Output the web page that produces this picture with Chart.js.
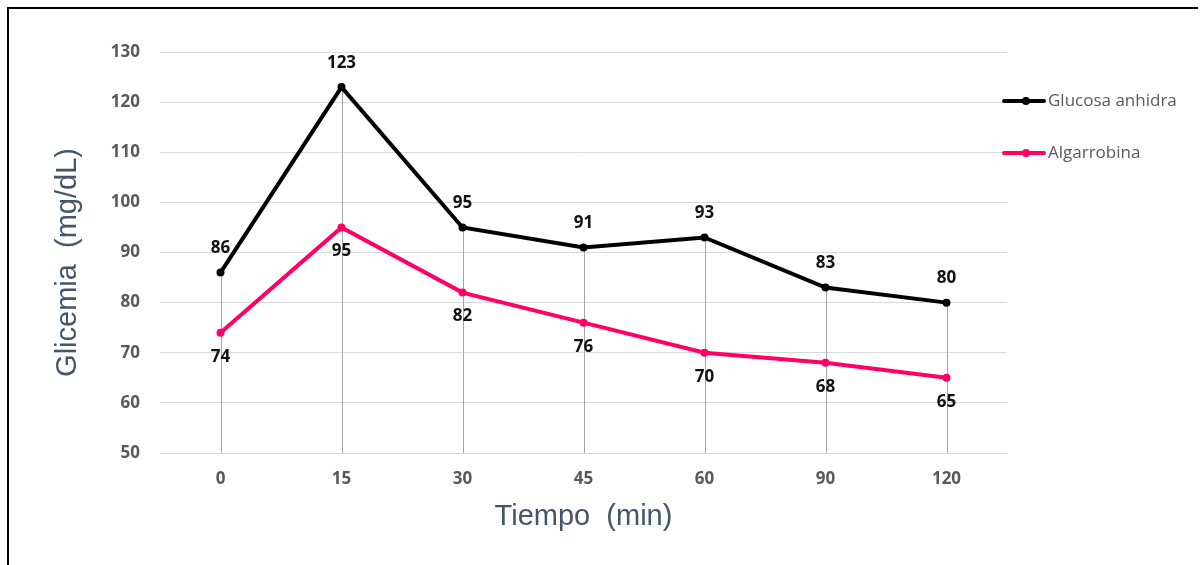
<!DOCTYPE html>
<html>
<head>
<meta charset="utf-8">
<script src="https://cdn.jsdelivr.net/npm/chart.js@4.4.1/dist/chart.umd.min.js"></script>
<style>
  html, body { margin: 0; padding: 0; background: #fff; }
  #wrap { position: relative; width: 1201px; height: 565px; }
  #frame { position: absolute; left: 7px; top: 7px; right: 3px; bottom: 0;
           border-left: 2px solid #000; border-top: 2px solid #000; pointer-events: none; }
</style>
</head>
<body>
<div id="wrap">
  <canvas id="c" width="1201" height="565"></canvas>
  <div id="frame"></div>
</div>
<script>
// Time points (minutes) and blood glucose readings (mg/dL)
const times = ['0', '15', '30', '45', '60', '90', '120'];
const glucosaAnhidra = [86, 123, 95, 91, 93, 83, 80];
const algarrobina = [74, 95, 82, 76, 70, 68, 65];
const seriesNames = ['Glucosa anhidra', 'Algarrobina'];
const yMin = 50, yMax = 130, yStep = 10;

const TICK_FONT = { family: '"Open Sans", sans-serif', size: 17, weight: 'bold' };
const TITLE_FONT = '29px "Liberation Sans", Arial, sans-serif';
const TITLE_COLOR = '#44546A';

// Thin gray drop lines from the highest point of each category to the axis
const dropLines = {
  id: 'dropLines',
  beforeDatasetsDraw(chart) {
    const { ctx, chartArea } = chart;
    const metas = chart.data.datasets.map((d, i) => chart.getDatasetMeta(i));
    ctx.save();
    ctx.strokeStyle = '#a6a6a6';
    ctx.lineWidth = 1;
    metas[0].data.forEach((pt, i) => {
      const top = Math.min(...metas.map(m => m.data[i].y));
      const x = Math.round(pt.x) + 0.5;
      ctx.beginPath();
      ctx.moveTo(x, top);
      ctx.lineTo(x, chartArea.bottom);
      ctx.stroke();
    });
    ctx.restore();
  }
};

// Value labels above / below each point
const valueLabels = {
  id: 'valueLabels',
  afterDatasetsDraw(chart) {
    const { ctx } = chart;
    ctx.save();
    ctx.font = 'bold 17px "Open Sans", sans-serif';
    ctx.fillStyle = '#111';
    ctx.textAlign = 'center';
    ctx.textBaseline = 'middle';
    chart.data.datasets.forEach((ds, di) => {
      const meta = chart.getDatasetMeta(di);
      meta.data.forEach((pt, i) => {
        ctx.fillText(String(ds.data[i]), pt.x, pt.y + ds.labelOffset);
      });
    });
    ctx.restore();
  }
};

// Rotated y-axis title and right-hand legend
const extras = {
  id: 'extras',
  afterDraw(chart) {
    const { ctx, chartArea } = chart;
    ctx.save();
    ctx.font = TITLE_FONT;
    ctx.fillStyle = TITLE_COLOR;
    ctx.textAlign = 'center';
    ctx.textBaseline = 'middle';
    ctx.translate(chartArea.left - 92, (chartArea.top + chartArea.bottom) / 2 + 10);
    ctx.rotate(-Math.PI / 2);
    ctx.fillText('Glicemia  (mg/dL)', 0, 0);
    ctx.restore();

    ctx.save();
    ctx.font = '17px "Open Sans", sans-serif';
    ctx.textBaseline = 'middle';
    ctx.textAlign = 'left';
    chart.data.datasets.forEach((ds, i) => {
      const x0 = chartArea.right - 3;
      const y = chartArea.top + 49 + i * 52;
      ctx.strokeStyle = ds.borderColor;
      ctx.lineWidth = 4;
      ctx.lineCap = 'round';
      ctx.beginPath();
      ctx.moveTo(x0, y);
      ctx.lineTo(x0 + 40, y);
      ctx.stroke();
      ctx.fillStyle = ds.borderColor;
      ctx.beginPath();
      ctx.arc(x0 + 22, y, 4, 0, Math.PI * 2);
      ctx.fill();
      ctx.fillStyle = '#595959';
      ctx.fillText(ds.label, x0 + 44, y);
    });
    ctx.restore();
  }
};

new Chart(document.getElementById('c'), {
  type: 'line',
  data: {
    labels: times,
    datasets: [
      {
        label: seriesNames[0],
        data: glucosaAnhidra,
        borderColor: '#000000',
        backgroundColor: '#000000',
        borderWidth: 4,
        pointRadius: 4,
        pointBorderWidth: 0,
        tension: 0,
        labelOffset: -24
      },
      {
        label: seriesNames[1],
        data: algarrobina,
        borderColor: '#FF0066',
        backgroundColor: '#FF0066',
        borderWidth: 4,
        pointRadius: 4,
        pointBorderWidth: 0,
        tension: 0,
        labelOffset: 24
      }
    ]
  },
  options: {
    responsive: false,
    animation: false,
    layout: { padding: { left: 0, right: 194, top: 52, bottom: 12 } },
    plugins: {
      legend: { display: false },
      tooltip: { enabled: false }
    },
    scales: {
      x: {
        offset: true,
        grid: { display: false, drawTicks: false },
        border: { display: false },
        ticks: { color: '#595959', font: TICK_FONT, padding: 16 },
        title: {
          display: true,
          text: 'Tiempo  (min)',
          color: TITLE_COLOR,
          font: { family: '"Liberation Sans", Arial, sans-serif', size: 29, weight: 'normal' },
          padding: { top: 0, bottom: 18.6 }
        },
        afterFit(scale) { scale.height = 100; }
      },
      y: {
        min: yMin,
        max: yMax,
        ticks: { stepSize: yStep, color: '#595959', font: TICK_FONT, padding: 20 },
        grid: { color: '#d9d9d9', lineWidth: 1, drawTicks: false },
        border: { display: false },
        afterFit(scale) { scale.width = 160; }
      }
    }
  },
  plugins: [dropLines, valueLabels, extras]
});
</script>
</body>
</html>
